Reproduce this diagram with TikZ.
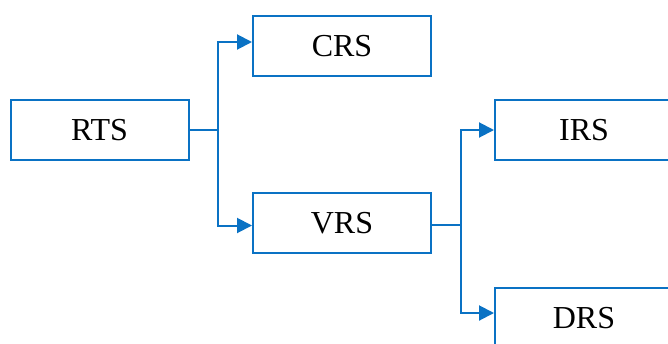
\documentclass[tikz,border=0pt]{standalone}
\usepackage{fontspec}
\setmainfont{Liberation Serif}
\usetikzlibrary{arrows.meta,calc}
\definecolor{linkblue}{HTML}{0A72C4}
\begin{document}
\begin{tikzpicture}[x=1pt,y=-1pt,
  level/.style={draw=linkblue,line width=2pt,fill=white,minimum width=178pt,
    minimum height=60pt,inner sep=0pt,font=\fontsize{32}{32}\selectfont},
  link/.style={draw=linkblue,line width=2pt},
  tolevel/.style={link,-{Triangle[length=15pt,width=15pt]}}]
\useasboundingbox (0,0) rectangle (668,343);
% the levels of the hierarchy
\node[level] (RTS) at (99.5,130) {RTS};
\node[level] (CRS) at (342,46) {CRS};
\node[level] (VRS) at (342,223) {VRS};
\node[level] (IRS) at (584,130) {IRS};
\node[level] (DRS) at (584,318) {DRS};
% branch points
\coordinate (jR) at (218,130);
\coordinate (jV) at (461,225);
% RTS splits into CRS and VRS
\draw[link] (RTS.east) -- (jR);
\draw[tolevel] (jR) |- ([yshift=4pt]CRS.west);
\draw[tolevel] (jR) |- ([yshift=-2.5pt]VRS.west);
% VRS splits into IRS and DRS
\draw[link] ([yshift=-2pt]VRS.east) -- (jV);
\draw[tolevel] (jV) |- (IRS.west);
\draw[tolevel] (jV) |- ([yshift=5pt]DRS.west);
\end{tikzpicture}
\end{document}
